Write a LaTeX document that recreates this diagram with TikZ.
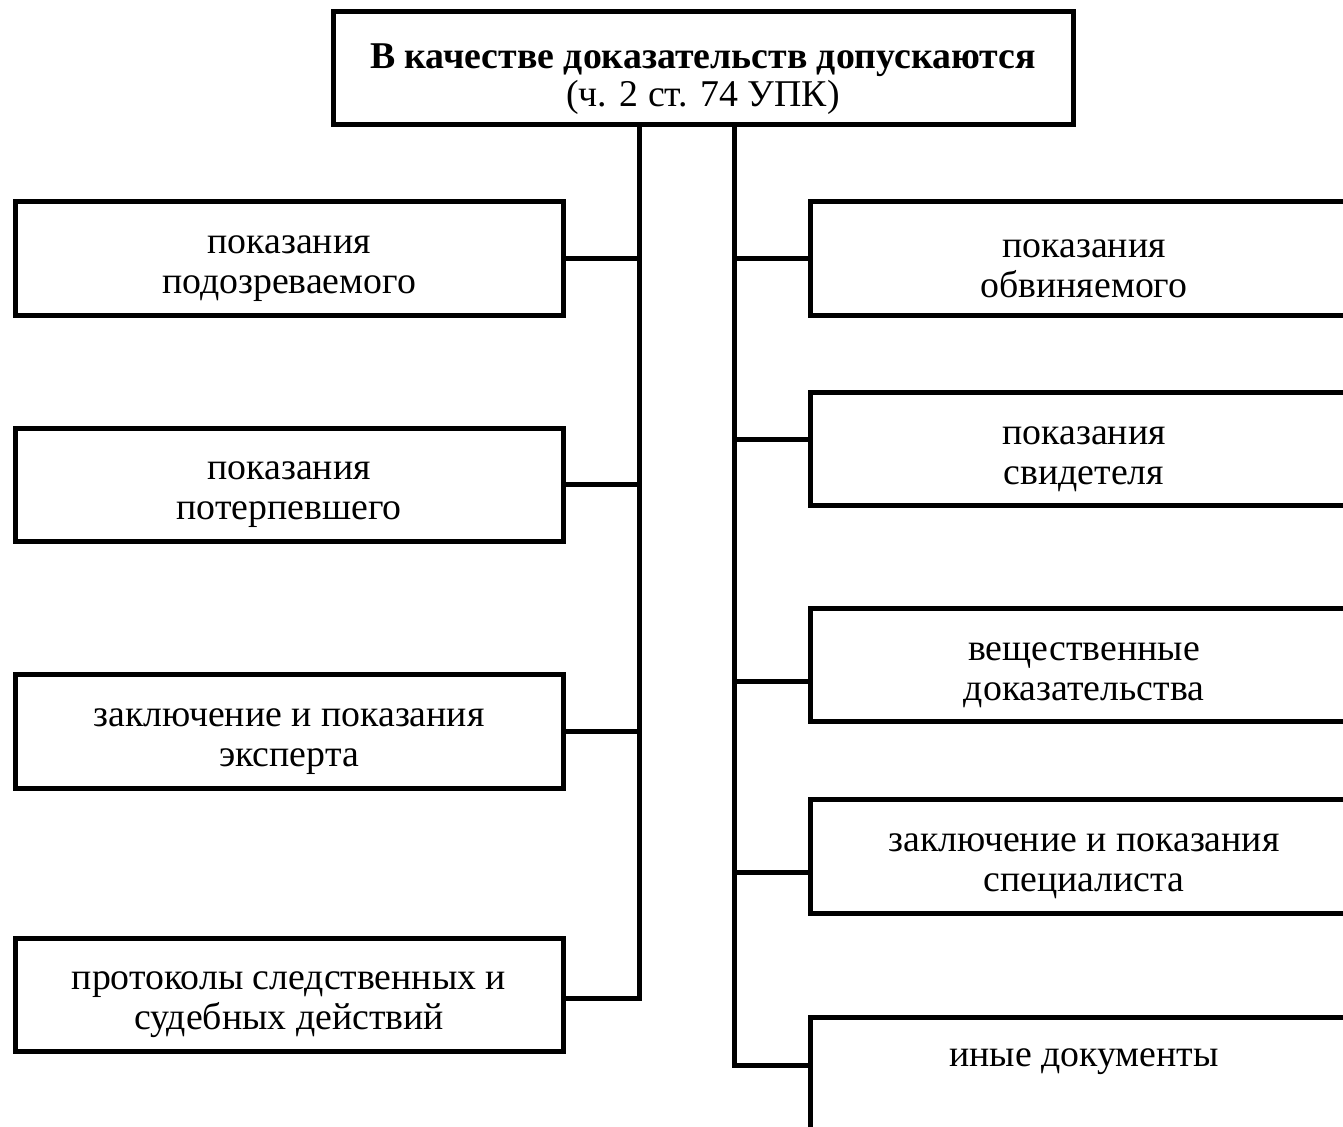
\documentclass[tikz,border=0pt]{standalone}
\usepackage{fontspec}
\setmainfont{Liberation Serif}
\begin{document}
\begin{tikzpicture}[x=0.5pt,y=-0.5pt,
  box/.style={draw, line width=2.5pt, inner sep=0pt, minimum width=274pt, minimum height=56.75pt},
  txt/.style={align=center, inner sep=0pt, font=\fontsize{18.9}{20}\selectfont, yshift=-5pt},
  link/.style={line width=2.5pt, line join=miter}]
\useasboundingbox (0,0) rectangle (1343,1127);
\clip (0,0) rectangle (1343,1127);
\fill[white] (0,0) rectangle (1343,1127);
% top
\node[box, minimum width=370pt, minimum height=56.5pt] (top) at (703,68.5) {};
\node[txt, font=\fontsize{18.9}{19}\selectfont, yshift=-0.5pt] (topt) at (top.center)
  {\textbf{В качестве доказательств допускаются}\\(ч. 2 ст. 74 УПК)};
% left column
\node[box] (L1) at (289,258.5) {};
\node[box] (L2) at (289,485) {};
\node[box] (L3) at (289,731.5) {};
\node[box] (L4) at (289,995) {};
\node[txt] (L1t) at (L1.center) {показания\\подозреваемого};
\node[txt] (L2t) at (L2.center) {показания\\потерпевшего};
\node[txt] (L3t) at (L3.center) {заключение и показания\\эксперта};
\node[txt] (L4t) at (L4.center) {протоколы следственных и\\судебных действий};
% right column
\node[box] (R1) at (1084,258.5) {};
\node[box] (R2) at (1084,449) {};
\node[box] (R3) at (1084,665) {};
\node[box] (R4) at (1084,856.5) {};
\node[box] (R5) at (1084,1074) {};
\node[txt] (R1t) at (R1.center) {показания\\обвиняемого};
\node[txt] (R2t) at (R2.center) {показания\\свидетеля};
\node[txt] (R3t) at (R3.center) {вещественные\\доказательства};
\node[txt] (R4t) at (R4.center) {заключение и показания\\специалиста};
\node[txt, yshift=11pt] (R5t) at (R5.center) {иные документы};
% trunks
\coordinate (tl) at (639,0);
\coordinate (tr) at (734,0);
\draw[link] (top.south -| tl) |- ([yshift=-1.5pt]L4.east);
\draw[link] (top.south -| tr) |- ([yshift=4.5pt]R5.west);
% branches left
\draw[link] (L1.east) -- (L1.east -| tl);
\draw[link] (L2.east) -- (L2.east -| tl);
\draw[link] (L3.east) -- (L3.east -| tl);
% branches right
\draw[link] (R1.west) -- (R1.west -| tr);
\draw[link] ([yshift=4.5pt]R2.west) -- ([yshift=4.5pt]R2.west -| tr);
\draw[link] ([yshift=-8pt]R3.west) -- ([yshift=-8pt]R3.west -| tr);
\draw[link] ([yshift=-7.75pt]R4.west) -- ([yshift=-7.75pt]R4.west -| tr);
\end{tikzpicture}
\end{document}
